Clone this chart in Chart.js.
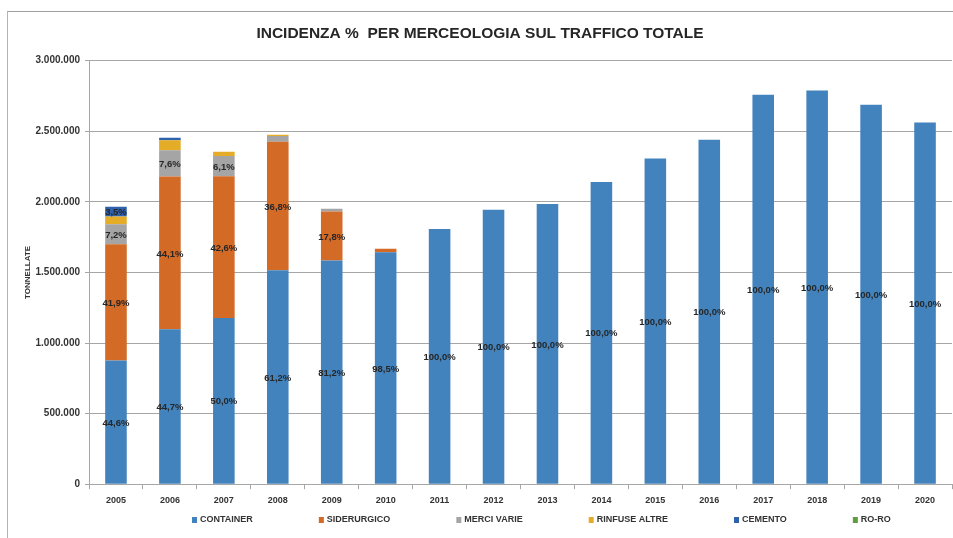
<!DOCTYPE html>
<html>
<head>
<meta charset="utf-8">
<script src="https://cdn.jsdelivr.net/npm/chart.js@4.4.1/dist/chart.umd.min.js"></script>
<style>
  body { margin: 0; background: #fff; overflow: hidden; }
  #wrap { position: relative; width: 953px; height: 538px; }
  #frame { position: absolute; left: 7px; top: 11px; width: 980px; height: 560px;
           border-left: 1px solid #b4b4b4; border-top: 1px solid #a0a0a0; }
  canvas { position: absolute; left: 0; top: 0; }
</style>
</head>
<body>
<div id="wrap">
  <div id="frame"></div>
  <canvas id="traffic-chart" width="953" height="538"></canvas>
</div>
<script>
const FONT = "'Liberation Sans', Arial, sans-serif";

const years = ['2005', '2006', '2007', '2008', '2009', '2010', '2011', '2012',
  '2013', '2014', '2015', '2016', '2017', '2018', '2019', '2020'];

// tonnellate per merceologia
const container = [876000, 1097000, 1177500, 1514700, 1583400, 1642000, 1808000, 1943000,
  1984000, 2140000, 2306000, 2440000, 2759000, 2789000, 2688000, 2562000];
const siderurgico = [823000, 1082000, 1003000, 910800, 347100, 25000, 0, 0,
  0, 0, 0, 0, 0, 0, 0, 0];
const merciVarie = [141500, 186500, 143700, 40500, 19500, 0, 0, 0,
  0, 0, 0, 0, 0, 0, 0, 0];
const rinfuseAltre = [55700, 70000, 30800, 9000, 0, 0, 0, 0,
  0, 0, 0, 0, 0, 0, 0, 0];
const cemento = [68800, 18500, 0, 0, 0, 0, 0, 0,
  0, 0, 0, 0, 0, 0, 0, 0];
const roRo = [0, 0, 0, 0, 0, 0, 0, 0,
  0, 0, 0, 0, 0, 0, 0, 0];

const yTicks = [0, 500000, 1000000, 1500000, 2000000, 2500000, 3000000];

const fmt = v => v.toString().replace(/\B(?=(\d{3})+(?!\d))/g, '.');

// percentuali sopra il 3% scritte al centro del segmento
const percentLabels = {
  id: 'percentLabels',
  afterDatasetsDraw(chart) {
    const ctx = chart.ctx;
    const sets = chart.data.datasets;
    const totals = years.map((_, i) => sets.reduce((s, ds) => s + ds.data[i], 0));
    ctx.save();
    ctx.font = `bold 9.5px ${FONT}`;
    ctx.fillStyle = '#262626';
    ctx.textAlign = 'center';
    ctx.textBaseline = 'middle';
    sets.forEach((ds, d) => {
      chart.getDatasetMeta(d).data.forEach((bar, i) => {
        const pct = ds.data[i] / totals[i] * 100;
        if (pct < 3) return;
        ctx.fillText(pct.toFixed(1).replace('.', ',') + '%', bar.x, (bar.y + bar.base) / 2 + 1);
      });
    });
    ctx.restore();
  }
};

// legenda in basso, spaziata come in Excel
const bottomLegend = {
  id: 'bottomLegend',
  afterDraw(chart) {
    const ctx = chart.ctx;
    ctx.save();
    ctx.font = `bold 9px ${FONT}`;
    ctx.textBaseline = 'middle';
    let x = 192;
    const y = 520;
    chart.data.datasets.forEach(ds => {
      ctx.fillStyle = ds.backgroundColor;
      ctx.fillRect(x, y - 3, 5, 6);
      ctx.fillStyle = '#333333';
      ctx.fillText(ds.label, x + 8, y);
      x += 8 + ctx.measureText(ds.label).width + 66;
    });
    ctx.restore();
  }
};

const ctx = document.getElementById('traffic-chart');

new Chart(ctx, {
  type: 'bar',
  data: {
    labels: years,
    datasets: [
      { label: 'CONTAINER', data: container, backgroundColor: '#4383BD' },
      { label: 'SIDERURGICO', data: siderurgico, backgroundColor: '#D36A26' },
      { label: 'MERCI VARIE', data: merciVarie, backgroundColor: '#A5A5A5' },
      { label: 'RINFUSE ALTRE', data: rinfuseAltre, backgroundColor: '#E5AC27' },
      { label: 'CEMENTO', data: cemento, backgroundColor: '#2E62AD' },
      { label: 'RO-RO', data: roRo, backgroundColor: '#5E9E3E' }
    ]
  },
  options: {
    responsive: false,
    animation: false,
    datasets: {
      bar: { barPercentage: 0.8, categoryPercentage: 0.5 }
    },
    layout: { padding: { left: 8, right: 1, top: 0, bottom: 26 } },
    plugins: {
      legend: { display: false },
      tooltip: { enabled: false },
      title: {
        display: true,
        text: 'INCIDENZA %  PER MERCEOLOGIA SUL TRAFFICO TOTALE',
        color: '#262626',
        font: { family: FONT, size: 15.5, weight: 'bold' },
        padding: { top: 24, bottom: 18 }
      }
    },
    scales: {
      x: {
        stacked: true,
        border: { color: '#a6a6a6' },
        grid: { drawOnChartArea: false, tickLength: 5, color: '#a6a6a6', offset: true },
        ticks: { color: '#333333', padding: 6, font: { family: FONT, size: 9, weight: 'bold' } }
      },
      y: {
        stacked: true,
        min: 0,
        max: 3000000,
        afterBuildTicks: scale => { scale.ticks = yTicks.map(v => ({ value: v })); },
        afterFit: scale => { scale.width = 81; },
        border: { color: '#a6a6a6' },
        grid: { color: '#a6a6a6', tickLength: 4 },
        ticks: {
          color: '#333333',
          padding: 5,
          font: { family: FONT, size: 10, weight: 'bold' },
          callback: v => fmt(v)
        },
        title: {
          display: true,
          text: 'TONNELLATE',
          color: '#333333',
          font: { family: FONT, size: 8, weight: 'bold' },
          padding: { top: 15, bottom: 0 }
        }
      }
    }
  },
  plugins: [percentLabels, bottomLegend]
});
</script>
</body>
</html>
